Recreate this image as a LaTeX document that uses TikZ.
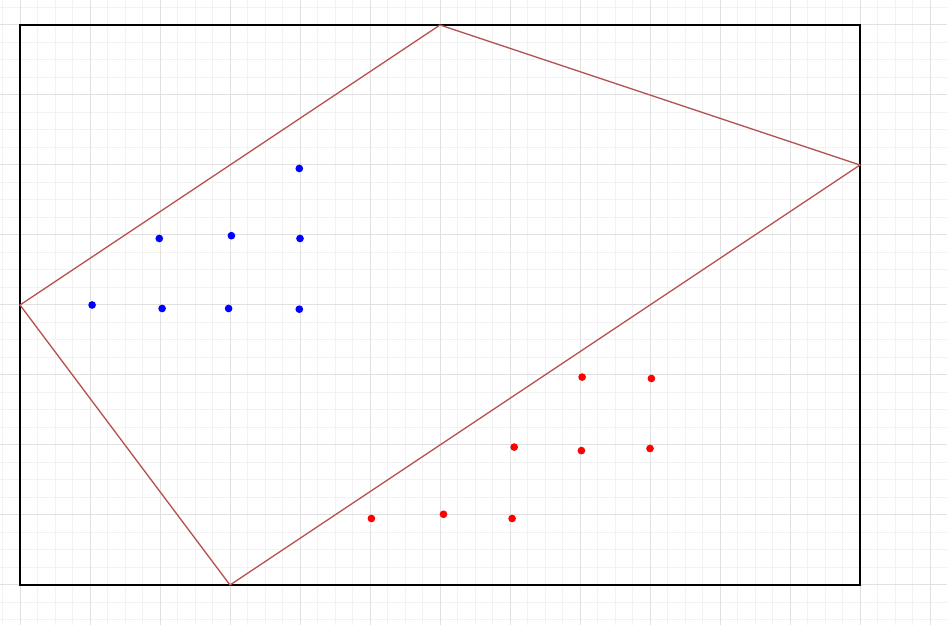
\documentclass[tikz,border=0pt]{standalone}
\begin{document}
\begin{tikzpicture}[
        minorgrid/.style={draw=black!5,line width=0.4pt},
        majorgrid/.style={draw=black!12,line width=0.4pt},
        frame/.style={draw=black,line width=0.6pt},
        hull/.style={draw={rgb,255:red,184;green,84;blue,80},line width=0.55pt},
        bluedot/.style={circle,fill=blue,inner sep=0pt,minimum size=0.11cm},
        reddot/.style={circle,fill=red,inner sep=0pt,minimum size=0.11cm}
        ]
        \useasboundingbox (-0.2857,-0.5714) rectangle (13.2429,8.3571);
        % background grid
        \draw[minorgrid,step=0.25] (-0.2857,-0.5714) grid (13.2429,8.3571);
        \draw[majorgrid,step=1] (-0.2857,-0.5714) grid (13.2429,8.3571);
        % frame
        \draw[frame] (0,0) rectangle (12,8);
        % corners of the separating region
        \coordinate (top) at (6,8);
        \coordinate (right) at (12,6);
        \coordinate (bottom) at (3,0);
        \coordinate (left) at (0,4);
        \draw[hull] (top) -- (right) -- (bottom) -- (left) -- cycle;
        % blue class
        \node[bluedot] (b1) at (1.03,4.00) {};
        \node[bluedot] (b2) at (2.03,3.95) {};
        \node[bluedot] (b3) at (2.98,3.95) {};
        \node[bluedot] (b4) at (3.99,3.94) {};
        \node[bluedot] (b5) at (1.99,4.95) {};
        \node[bluedot] (b6) at (3.02,4.99) {};
        \node[bluedot] (b7) at (4.00,4.95) {};
        \node[bluedot] (b8) at (3.99,5.95) {};
        % red class
        \node[reddot] (r1) at (8.03,2.97) {};
        \node[reddot] (r2) at (9.02,2.95) {};
        \node[reddot] (r3) at (7.06,1.97) {};
        \node[reddot] (r4) at (8.02,1.92) {};
        \node[reddot] (r5) at (9.00,1.95) {};
        \node[reddot] (r6) at (5.02,0.95) {};
        \node[reddot] (r7) at (6.05,1.01) {};
        \node[reddot] (r8) at (7.03,0.95) {};
      \end{tikzpicture}
\end{document}
